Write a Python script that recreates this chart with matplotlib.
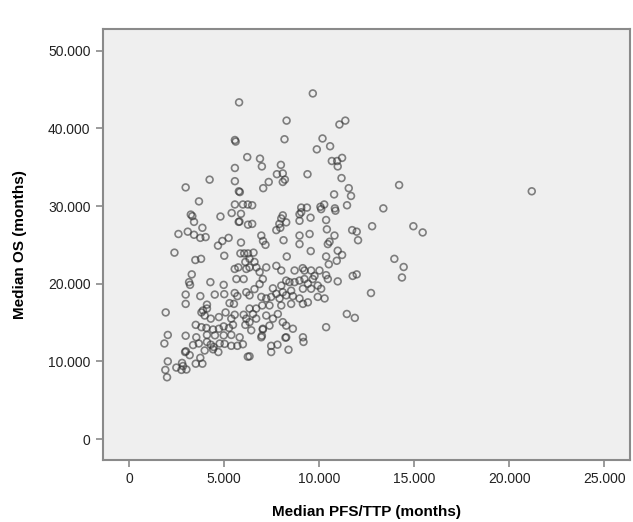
import numpy as np
import matplotlib
matplotlib.use('Agg')
import matplotlib.pyplot as plt

plt.rcParams['font.family'] = ['Liberation Sans', 'DejaVu Sans']

# Median PFS/TTP (x) vs median OS (y), months
pfs = [
    5.78, 5.56, 5.60, 6.21, 5.56, 4.23, 2.97, 5.56, 5.77, 5.82, 3.67, 5.56, 5.98, 6.24,
    9.66, 8.28, 11.37, 11.06, 8.17, 10.17, 10.57, 9.87, 6.88, 6.98, 10.66, 10.94, 11.20,
    10.97, 7.98, 7.77, 8.08, 8.19, 8.08, 9.38, 7.34, 7.05, 11.17, 11.55, 11.67, 10.78,
    14.20, 6.47, 9.05, 9.35, 10.06, 10.26, 10.82, 11.46, 13.37,
    3.24, 3.32, 4.80, 5.39, 5.88, 5.76, 5.80, 3.41, 3.85, 2.59, 3.08, 3.41, 3.74, 4.02,
    6.25, 5.23, 4.90, 4.67, 5.88, 2.38, 5.00, 5.85, 6.05, 6.25, 3.48, 3.78, 6.11, 5.55,
    5.74, 6.16, 3.29, 3.15, 3.20, 4.27, 5.64, 6.02, 4.97, 2.97, 3.74, 4.50, 5.00, 5.55,
    5.69, 6.16, 2.97, 4.09, 5.28, 5.51, 1.92, 3.80, 3.97, 3.88, 4.09, 4.29, 4.72, 5.07,
    5.37, 5.55, 6.02, 6.16, 3.50, 3.80, 4.06, 4.41, 4.72, 4.97, 5.25, 5.46, 6.11, 2.03,
    2.97, 3.53, 4.09, 4.51, 4.97, 5.37, 5.81,
    1.85, 3.36, 3.66, 4.09, 4.29, 4.44, 3.97, 4.41, 4.69, 4.76, 5.02, 5.37, 5.69, 5.98,
    6.24, 2.94, 2.98, 3.18, 3.74, 3.50, 3.85, 2.03, 2.78, 2.83, 2.48, 2.75, 3.01, 1.90,
    1.99,
    6.42, 7.03, 6.98, 6.33, 8.22, 9.17, 7.47, 7.80, 7.47, 8.38, 10.36,
    8.08, 8.00, 9.05, 8.96, 9.54, 10.10, 10.85, 6.47, 7.90, 8.26, 8.96, 10.36, 7.74,
    7.95, 10.40, 12.78, 11.73, 11.97, 12.04, 6.95, 7.04, 7.17, 8.12, 8.96, 9.49, 8.96,
    10.80, 10.54, 10.45, 6.54, 9.55, 10.97, 11.20, 10.92, 8.29, 10.36, 10.50, 13.95,
    6.33, 6.59, 6.33, 6.69, 6.86, 7.21, 7.03, 6.86, 6.59, 6.33, 6.95, 7.00, 6.33, 6.51,
    7.74, 8.00, 8.70, 9.13, 9.22, 9.57, 9.75, 10.01, 10.36, 10.45, 10.97, 11.76, 11.97,
    7.56, 8.00, 8.26, 8.43, 8.70, 8.96, 9.22, 9.40, 9.66, 9.92, 10.10, 9.57, 9.14, 8.52,
    8.08, 7.74, 7.47, 7.91, 8.26, 8.61, 8.96, 9.14, 9.40, 9.92, 10.28, 8.52, 8.00,
    12.72, 11.45, 11.87,
    7.21, 7.38, 7.56, 8.08, 8.26, 8.61, 7.38, 7.03, 6.33, 6.95, 8.26, 6.68, 6.68, 7.21,
    7.82, 9.14,
    21.18, 14.95, 15.44, 14.44, 14.35,
]
os_ = [
    43.35, 38.5, 38.3, 36.3, 34.9, 33.4, 32.4, 33.2, 31.9, 31.8, 30.6, 30.2, 30.2, 30.2,
    44.5, 41.0, 41.0, 40.5, 38.6, 38.7, 37.7, 37.3, 36.1, 35.1, 35.8, 35.8, 36.2,
    35.1, 35.3, 34.1, 34.2, 33.4, 33.1, 34.1, 33.1, 32.3, 33.6, 32.3, 31.3, 31.5,
    32.7, 30.1, 29.8, 29.8, 29.9, 30.2, 29.7, 30.1, 29.7,
    28.9, 28.7, 28.65, 29.1, 29.0, 27.96, 28.0, 27.96, 27.2, 26.4, 26.7, 26.3, 25.9, 26.0,
    27.6, 25.9, 25.5, 24.9, 25.3, 24.0, 23.6, 23.9, 23.9, 23.9, 23.05, 23.2, 22.8, 21.9,
    22.1, 21.9, 21.2, 20.2, 19.85, 20.2, 20.6, 20.6, 19.85, 18.6, 18.4, 18.6, 18.65, 18.8,
    18.4, 18.9, 17.4, 17.3, 17.5, 17.4, 16.3, 16.3, 15.9, 16.55, 16.8, 15.5, 15.7, 16.3,
    15.5, 16.0, 16.0, 15.5, 14.7, 14.4, 14.3, 14.1, 14.2, 14.5, 14.3, 14.7, 14.7, 13.4,
    13.3, 13.1, 13.4, 13.35, 13.35, 13.4, 13.1,
    12.3, 12.1, 12.3, 12.5, 12.15, 11.85, 11.4, 11.55, 11.2, 12.3, 12.25, 12.0, 12.0, 12.2,
    10.6, 11.2, 11.3, 10.8, 10.45, 9.7, 9.7, 10.0, 9.8, 9.4, 9.2, 8.9, 8.95, 8.9,
    7.95,
    14.0, 14.1, 13.3, 10.65, 13.05, 12.5, 12.0, 12.15, 11.2, 11.5, 14.4,
    28.8, 28.4, 29.2, 28.95, 28.5, 29.6, 29.4, 27.7, 27.7, 27.9, 28.1, 28.2, 26.9,
    27.2, 27.0, 27.4, 26.9, 26.7, 25.6, 26.2, 25.5, 25.0, 25.6, 26.2, 26.4, 25.1,
    26.2, 25.4, 25.1, 24.0, 24.2, 24.25, 23.7, 22.95, 23.5, 23.5, 22.5, 23.2,
    23.2, 22.8, 22.1, 22.1, 21.5, 22.1, 20.6, 19.95, 19.3, 18.5, 18.3, 17.2, 16.8, 16.1,
    22.3, 21.7, 21.7, 22.0, 21.7, 21.7, 21.0, 21.7, 21.1, 20.6, 20.3, 21.0, 21.2,
    19.4, 19.76, 20.4, 20.2, 20.2, 20.4, 20.6, 20.0, 20.6, 19.76, 19.35, 19.35, 19.35, 19.1,
    18.9, 18.7, 18.3, 18.1, 18.5, 18.4, 18.1, 17.4, 17.6, 18.3, 18.1, 17.4, 17.2,
    18.8, 16.1, 15.6,
    18.1, 17.2, 15.5, 15.05, 14.6, 14.2, 14.6, 14.2, 15.05, 13.1, 13.1, 16.8, 15.5, 15.9,
    16.1, 13.1,
    31.9, 27.4, 26.6, 22.15, 20.8,
]

x_ticks = [0, 5, 10, 15, 20, 25]
x_labels = ['0', '5.000', '10.000', '15.000', '20.000', '25.000']
y_ticks = [0, 10, 20, 30, 40, 50]
y_labels = ['0', '10.000', '20.000', '30.000', '40.000', '50.000']

fig = plt.figure(figsize=(6.33, 5.22), dpi=100)
ax = fig.add_axes([0.1627, 0.1188, 0.8326, 0.8251])
ax.set_facecolor('#efefef')

ax.scatter(pfs, os_, s=24, facecolors='none', edgecolors='#333333',
           linewidths=1.2, alpha=0.6)

ax.set_xlim(-1.38, 26.35)
ax.set_ylim(-2.7, 52.76)
ax.set_xticks(x_ticks)
ax.set_xticklabels(x_labels)
ax.set_yticks(y_ticks)
ax.set_yticklabels(y_labels)

for s in ax.spines.values():
    s.set_color('#8a8a8a')
    s.set_linewidth(1.5)
ax.tick_params(direction='out', length=5, width=1.2, color='#8a8a8a',
               labelsize=10, labelcolor='#222222', pad=4)

ax.set_xlabel('Median PFS/TTP (months)', fontsize=11, fontweight='bold', labelpad=13)
ax.set_ylabel('Median OS (months)', fontsize=11, fontweight='bold', labelpad=15)

fig.savefig('out.png', dpi=100)
